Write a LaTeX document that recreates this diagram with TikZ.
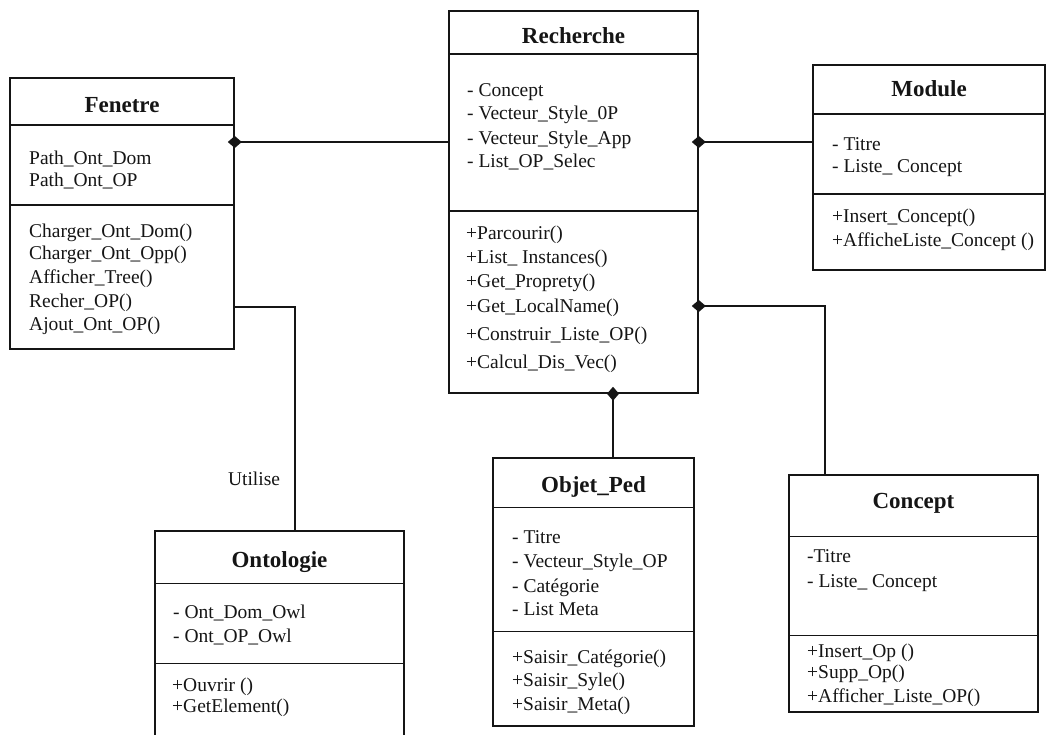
\documentclass[tikz,border=0pt]{standalone}
\usepackage{fontspec}
\setmainfont{Liberation Serif}
\usetikzlibrary{arrows.meta}
\definecolor{ink}{HTML}{151515}
\begin{document}
\begin{tikzpicture}[x=1pt,y=-1pt,
  classbox/.style n args={2}{draw=ink, line width=1.5pt, rectangle, inner sep=0pt,
    minimum width=#1, minimum height=#2},
  sep/.style={draw=ink, line width=1.5pt},
  title/.style={anchor=base, inner sep=0pt, font=\fontsize{23}{27}\selectfont\bfseries, text=ink},
  txt/.style={anchor=base west, inner sep=0pt, font=\fontsize{19.5}{23}\selectfont, text=ink},
  link/.style={draw=ink, line width=1.5pt},
  comp/.style={link, {Diamond[length=14pt,width=12pt]}-, shorten <=-7pt},
]
\clip (0,0) rectangle (1051,735);
\fill[white] (0,0) rectangle (1051,735);

% ---------- Fenetre ----------
\node[classbox={224pt}{271pt}] (fen) at (122,213.5) {};
\draw[sep] (fen.north west) ++(0,48) -- ++(224,0);
\draw[sep] (fen.north west) ++(0,128) -- ++(224,0);
\node[title] (fen-t) at (122,113) {Fenetre};
\foreach \y/\t [count=\i] in {165/Path\_Ont\_Dom, 187/Path\_Ont\_OP}
  \node[txt] (fen-a\i) at (29,\y) {\t};
\foreach \y/\t [count=\i] in {237/Charger\_Ont\_Dom(), 259/Charger\_Ont\_Opp(),
    283/Afficher\_Tree(), 307/Recher\_OP(), 330/Ajout\_Ont\_OP()}
  \node[txt] (fen-m\i) at (29,\y) {\t};

% ---------- Recherche ----------
\node[classbox={249pt}{382pt}] (rech) at (573.5,202) {};
\draw[sep] (rech.north west) ++(0,44) -- ++(249,0);
\draw[sep] (rech.north west) ++(0,201) -- ++(249,0);
\node[title] (rech-t) at (573.5,44) {Recherche};
\foreach \y/\t [count=\i] in {97/- Concept, 120/- Vecteur\_Style\_0P,
    145/- Vecteur\_Style\_App, 168/- List\_OP\_Selec}
  \node[txt] (rech-a\i) at (467,\y) {\t};
\foreach \y/\t [count=\i] in {240/+Parcourir(), 263/+List\_ Instances(),
    287/+Get\_Proprety(), 312/+Get\_LocalName(), 340/+Construir\_Liste\_OP(),
    368/+Calcul\_Dis\_Vec()}
  \node[txt] (rech-m\i) at (466,\y) {\t};

% ---------- Module ----------
\node[classbox={232pt}{205pt}] (mod) at (929,167.5) {};
\draw[sep] (mod.north west) ++(0,50) -- ++(232,0);
\draw[sep] (mod.north west) ++(0,130) -- ++(232,0);
\node[title] (mod-t) at (929,97) {Module};
\foreach \y/\t [count=\i] in {151/- Titre, 173/- Liste\_ Concept}
  \node[txt] (mod-a\i) at (832,\y) {\t};
\foreach \y/\t [count=\i] in {223/+Insert\_Concept(), 247/+AfficheListe\_Concept ()}
  \node[txt] (mod-m\i) at (832,\y) {\t};

% ---------- Ontologie ----------
\node[classbox={249pt}{214pt}] (onto) at (279.5,638) {};
\draw[sep] (onto.north west) ++(0,53) -- ++(249,0);
\draw[sep] (onto.north west) ++(0,133) -- ++(249,0);
\node[title] (onto-t) at (279.5,567) {Ontologie};
\foreach \y/\t [count=\i] in {618/- Ont\_Dom\_Owl, 642/- Ont\_OP\_Owl}
  \node[txt] (onto-a\i) at (173,\y) {\t};
\foreach \y/\t [count=\i] in {691/+Ouvrir (), 712/+GetElement()}
  \node[txt] (onto-m\i) at (172,\y) {\t};

% ---------- Objet_Ped ----------
\node[classbox={201pt}{268pt}] (obj) at (593.5,592) {};
\draw[sep] (obj.north west) ++(0,50) -- ++(201,0);
\draw[sep] (obj.north west) ++(0,174) -- ++(201,0);
\node[title] (obj-t) at (593.5,492) {Objet\_Ped};
\foreach \y/\t [count=\i] in {543/- Titre, 567/- Vecteur\_Style\_OP,
    592/- Catégorie, 615/- List Meta}
  \node[txt] (obj-a\i) at (512,\y) {\t};
\foreach \y/\t [count=\i] in {663/+Saisir\_Catégorie(), 686/+Saisir\_Syle(),
    710/+Saisir\_Meta()}
  \node[txt] (obj-m\i) at (512,\y) {\t};

% ---------- Concept ----------
\node[classbox={249pt}{237pt}] (conc) at (913.5,593.5) {};
\draw[sep] (conc.north west) ++(0,62) -- ++(249,0);
\draw[sep] (conc.north west) ++(0,161) -- ++(249,0);
\node[title] (conc-t) at (913.5,508) {Concept};
\foreach \y/\t [count=\i] in {562/-Titre, 587/- Liste\_ Concept}
  \node[txt] (conc-a\i) at (807,\y) {\t};
\foreach \y/\t [count=\i] in {657/+Insert\_Op (), 678/+Supp\_Op(),
    702/+Afficher\_Liste\_OP()}
  \node[txt] (conc-m\i) at (807,\y) {\t};

% ---------- relations ----------
\coordinate (j1) at (0,142);
\coordinate (j2) at (825,306);
\coordinate (j3) at (613,0);
\coordinate (j4) at (295,307);
\draw[comp] (fen.east |- j1) -- (rech.west |- j1);
\draw[comp] (rech.east |- j1) -- (mod.west |- j1);
\draw[comp] (rech.east |- j2) -| (j2 |- conc.north);
\draw[comp] (rech.south -| j3) -- (obj.north -| j3);
\draw[link] (fen.east |- j4) -| (j4 |- onto.north);
\node[txt, anchor=base] (util) at (254,485) {Utilise};
\end{tikzpicture}
\end{document}
